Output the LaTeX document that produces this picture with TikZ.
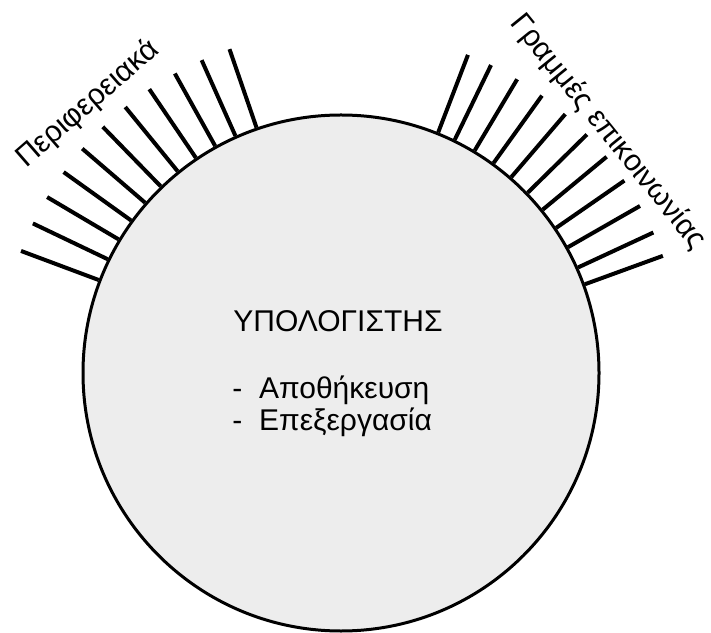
\documentclass[tikz,border=0pt]{standalone}
\usepackage{fontspec}
\setmainfont{Liberation Sans}
\usepackage{xcolor}
\usepackage{tikz}
\usetikzlibrary{positioning}

\definecolor{discfill}{gray}{0.93}

\begin{document}
\begin{tikzpicture}[
    x=0.5pt, y=0.5pt,
    font=\fontsize{15}{16}\selectfont,
    computer/.style={
        circle,
        draw=black,
        line width=1.5pt,
        fill=discfill,
        minimum size=258pt,
        inner sep=0pt
    },
    port/.style={line width=2pt, line cap=butt},
    item/.style={anchor=base west, inner sep=0pt}
]
\useasboundingbox (0,0) rectangle (711,632);

% Nodes
\node (pc) [computer] at (341,259) {};

\node (title) [anchor=base, inner sep=0pt] at (338,300) {ΥΠΟΛΟΓΙΣΤΗΣ};

\node (store) [item] at (232,234) {-~ Αποθήκευση};
\node (proc) [item] at ([yshift=-16pt]store.base west) {-~ Επεξεργασία};

\node (periph) [rotate=41, inner sep=1pt] at (88,528) {Περιφερειακά};
\node (comm) [rotate=-51, inner sep=1pt] at (608,500) {Γραμμές επικοινωνίας};

% Ports
\foreach \a in {109,114.05,...,160}
    \draw [port] (pc.\a) -- ++(\a:83);

\foreach \a in {20,24.9,...,69.1}
    \draw [port] (pc.\a) -- ++(\a:83);

\end{tikzpicture}
\end{document}
